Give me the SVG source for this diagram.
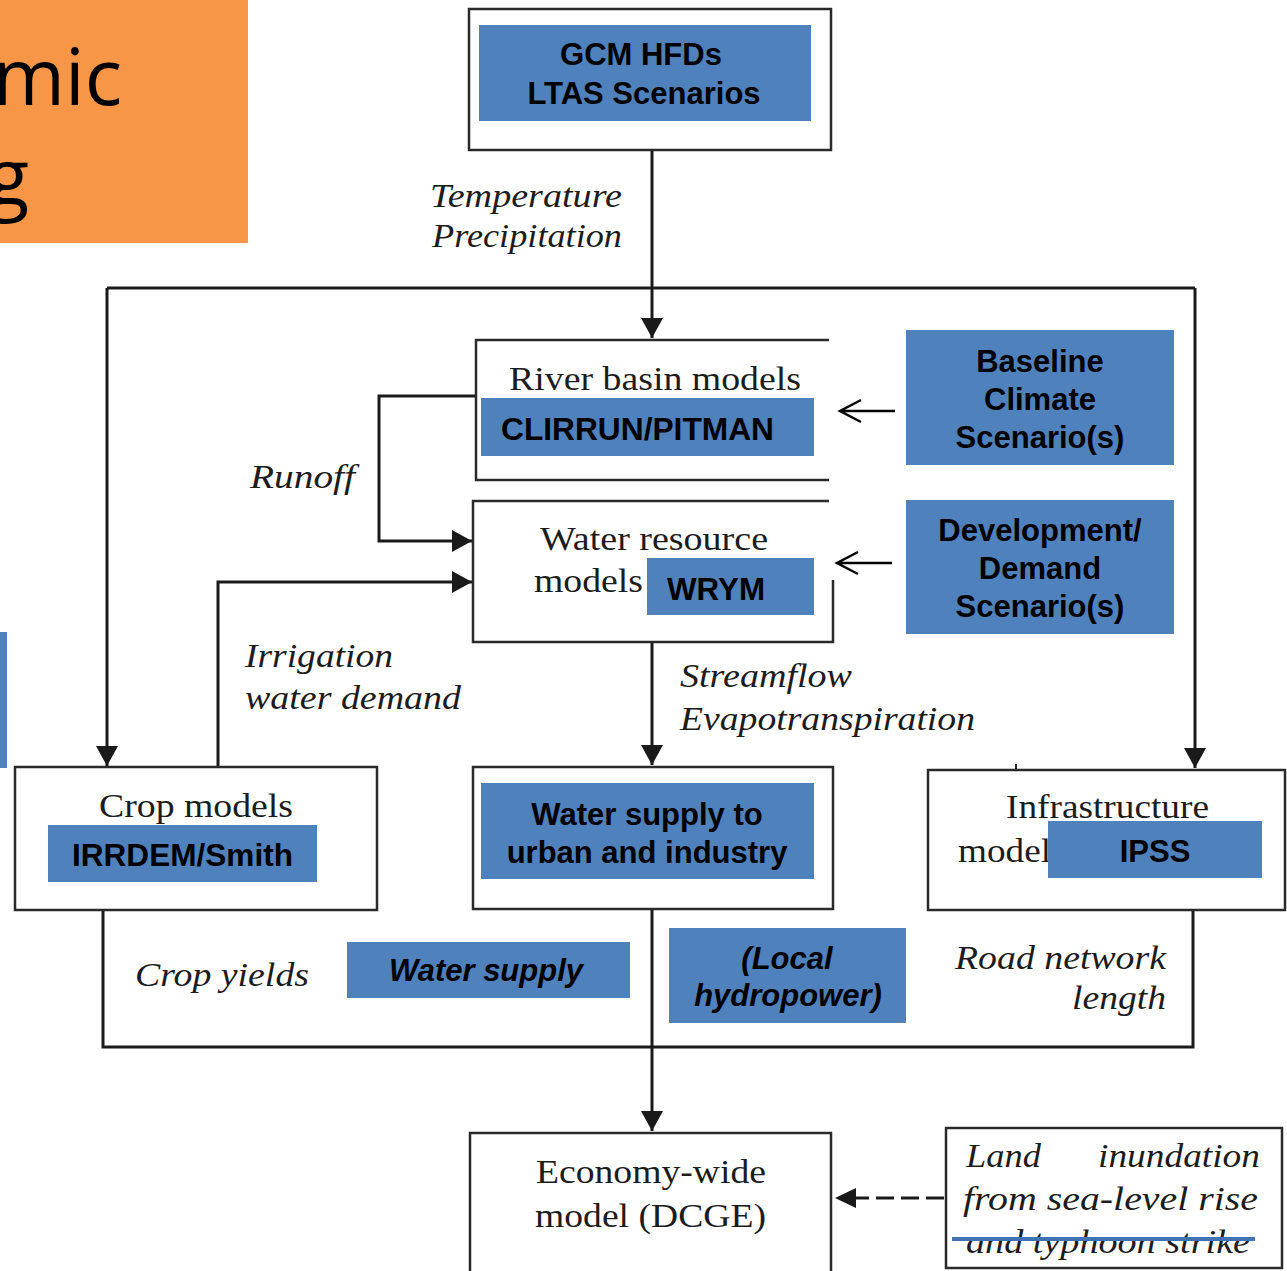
<svg xmlns="http://www.w3.org/2000/svg" width="1287" height="1271" viewBox="0 0 1287 1271">
<style>
.box{fill:#ffffff;stroke:#2a2a2a;stroke-width:2.5}
.open{fill:none;stroke:#2a2a2a;stroke-width:2.5}
.blue{fill:#4F81BD}
.con{fill:none;stroke:#1a1a1a;stroke-width:3}
.serif{font-family:"Liberation Serif","Times New Roman",serif;font-size:34px;fill:#1c1c1c}
.it{font-family:"Liberation Serif","Times New Roman",serif;font-size:34px;font-style:italic;fill:#1c1c1c}
.b{font-family:"Liberation Sans",Arial,sans-serif;font-size:31px;font-weight:bold;fill:#000}
.bi{font-family:"Liberation Sans",Arial,sans-serif;font-size:31px;font-weight:bold;font-style:italic;fill:#000}
.c{text-anchor:middle}
</style>
<defs>
<marker id="arr" viewBox="0 0 20 22" refX="20" refY="11" markerWidth="20" markerHeight="22" markerUnits="userSpaceOnUse" orient="auto">
<path d="M0,0 L20,11 L0,22 Z" fill="#1a1a1a"/>
</marker>
<clipPath id="clipLast"><rect x="946" y="1229" width="336" height="40"/></clipPath>
</defs>
<rect width="1287" height="1271" fill="#ffffff"/>

<g id="title">
<rect x="0" y="0" width="248" height="243" fill="#F79646"/>
<text x="122" y="105" text-anchor="end" font-family="'Open Sans',sans-serif" font-size="78" fill="#000">mic</text>
<text x="29" y="205" text-anchor="end" font-family="'Open Sans',sans-serif" font-size="78" fill="#000">g</text>
</g>
<rect id="side-blue" x="0" y="632" width="7" height="136" fill="#4F81BD"/>

<g id="connectors">
<path class="con" d="M652,150 V338" marker-end="url(#arr)"/>
<path class="con" d="M107,288 H1195"/>
<path class="con" d="M107,288 V766" marker-end="url(#arr)"/>
<path class="con" d="M1195,288 V768" marker-end="url(#arr)"/>
<path class="con" d="M476,396 H379 V541 H472" marker-end="url(#arr)"/>
<path class="con" d="M218,767 V582 H472" marker-end="url(#arr)"/>
<path class="con" d="M652,642 V765" marker-end="url(#arr)"/>
<path class="con" d="M103,910 V1047 H1193 V910"/>
<path class="con" d="M652,909 V1131" marker-end="url(#arr)"/>
<path d="M1016,764 V770" stroke="#2a2a2a" stroke-width="2"/>
<path d="M895,411 H840 M861,400 L840,411 L861,422" fill="none" stroke="#000" stroke-width="2.5"/>
<path d="M892,563 H837 M858,552 L837,563 L858,574" fill="none" stroke="#000" stroke-width="2.5"/>
<path d="M944,1198 H856" fill="none" stroke="#1a1a1a" stroke-width="3" stroke-dasharray="18,7"/>
<path d="M856,1188 L835,1198 L856,1208 Z" fill="#1a1a1a"/>
<text class="it" x="430" y="207" textLength="192" lengthAdjust="spacingAndGlyphs">Temperature</text>
<text class="it" x="432" y="247" textLength="190" lengthAdjust="spacingAndGlyphs">Precipitation</text>
<text class="it" x="250" y="488" textLength="105" lengthAdjust="spacingAndGlyphs">Runoff</text>
<text class="it" x="245" y="667" textLength="148" lengthAdjust="spacingAndGlyphs">Irrigation</text>
<text class="it" x="245" y="709" textLength="216" lengthAdjust="spacingAndGlyphs">water demand</text>
<text class="it" x="680" y="687" textLength="172" lengthAdjust="spacingAndGlyphs">Streamflow</text>
<text class="it" x="680" y="730" textLength="295" lengthAdjust="spacingAndGlyphs">Evapotranspiration</text>
<text class="it" x="135" y="986" textLength="174" lengthAdjust="spacingAndGlyphs">Crop yields</text>
<text class="it" x="955" y="969" textLength="211" lengthAdjust="spacingAndGlyphs">Road network</text>
<text class="it" x="1072" y="1009" textLength="94" lengthAdjust="spacingAndGlyphs">length</text>
</g>

<g id="gcm">
<rect class="box" x="469" y="9" width="362" height="141"/>
<rect class="blue" x="479" y="25" width="332" height="96"/>
<text class="b c" x="641" y="65">GCM HFDs</text>
<text class="b c" x="644" y="104">LTAS Scenarios</text>
</g>

<g id="river-basin">
<path class="open" d="M829,340 H476 V480 H829"/>
<text class="serif" x="509" y="390" textLength="292" lengthAdjust="spacingAndGlyphs">River basin models</text>
<rect class="blue" x="481" y="398" width="333" height="58"/>
<text class="b" x="501" y="440" textLength="273" lengthAdjust="spacingAndGlyphs">CLIRRUN/PITMAN</text>
</g>

<g id="water-resource">
<path class="open" d="M829,501 H473 V642 H833 V580"/>
<text class="serif" x="540" y="550" textLength="228" lengthAdjust="spacingAndGlyphs">Water resource</text>
<text class="serif" x="534" y="592" textLength="109" lengthAdjust="spacingAndGlyphs">models</text>
<rect class="blue" x="647" y="558" width="167" height="57"/>
<text class="b" x="667" y="600" textLength="98" lengthAdjust="spacingAndGlyphs">WRYM</text>
</g>

<g id="baseline-climate">
<rect class="blue" x="906" y="330" width="268" height="135"/>
<text class="b c" x="1040" y="372">Baseline</text>
<text class="b c" x="1040" y="410">Climate</text>
<text class="b c" x="1040" y="448">Scenario(s)</text>
</g>

<g id="development-demand">
<rect class="blue" x="906" y="500" width="268" height="134"/>
<text class="b c" x="1040" y="541">Development/</text>
<text class="b c" x="1040" y="579">Demand</text>
<text class="b c" x="1040" y="617">Scenario(s)</text>
</g>

<g id="crop-models">
<rect class="box" x="15" y="767" width="362" height="143"/>
<text class="serif" x="99" y="817" textLength="194" lengthAdjust="spacingAndGlyphs">Crop models</text>
<rect class="blue" x="48" y="825" width="269" height="57"/>
<text class="b" x="72" y="866" textLength="221" lengthAdjust="spacingAndGlyphs">IRRDEM/Smith</text>
</g>

<g id="water-supply-urban">
<rect class="box" x="473" y="767" width="360" height="142"/>
<rect class="blue" x="481" y="783" width="333" height="96"/>
<text class="b c" x="647" y="825">Water supply to</text>
<text class="b c" x="647" y="863">urban and industry</text>
</g>

<g id="infrastructure">
<rect class="box" x="928" y="770" width="357" height="140"/>
<text class="serif" x="1006" y="818" textLength="203" lengthAdjust="spacingAndGlyphs">Infrastructure</text>
<text class="serif" x="958" y="862" textLength="93" lengthAdjust="spacingAndGlyphs">model</text>
<rect class="blue" x="1048" y="821" width="214" height="57"/>
<text class="b c" x="1155" y="862">IPSS</text>
</g>

<g id="water-supply-label">
<rect class="blue" x="347" y="942" width="283" height="56"/>
<text class="bi c" x="486" y="981">Water supply</text>
</g>

<g id="local-hydropower">
<rect class="blue" x="669" y="928" width="237" height="95"/>
<text class="bi c" x="787" y="969">(Local</text>
<text class="bi c" x="788" y="1006">hydropower)</text>
</g>

<g id="economy-wide">
<rect class="box" x="470" y="1133" width="361" height="150"/>
<text class="serif" x="536" y="1183" textLength="230" lengthAdjust="spacingAndGlyphs">Economy-wide</text>
<text class="serif" x="535" y="1227" textLength="231" lengthAdjust="spacingAndGlyphs">model (DCGE)</text>
</g>

<g id="land-inundation">
<rect class="box" x="946" y="1128" width="336" height="140"/>
<text class="it" x="966" y="1167" textLength="75" lengthAdjust="spacingAndGlyphs">Land</text>
<text class="it" x="1098" y="1167" textLength="162" lengthAdjust="spacingAndGlyphs">inundation</text>
<text class="it" x="963" y="1210" textLength="295" lengthAdjust="spacingAndGlyphs">from sea-level rise</text>
<text class="it" x="966" y="1253" textLength="284" lengthAdjust="spacingAndGlyphs" clip-path="url(#clipLast)">and typhoon strike</text>
<path d="M952,1239 H1255" stroke="#3F73B5" stroke-width="4"/>
</g>
</svg>
